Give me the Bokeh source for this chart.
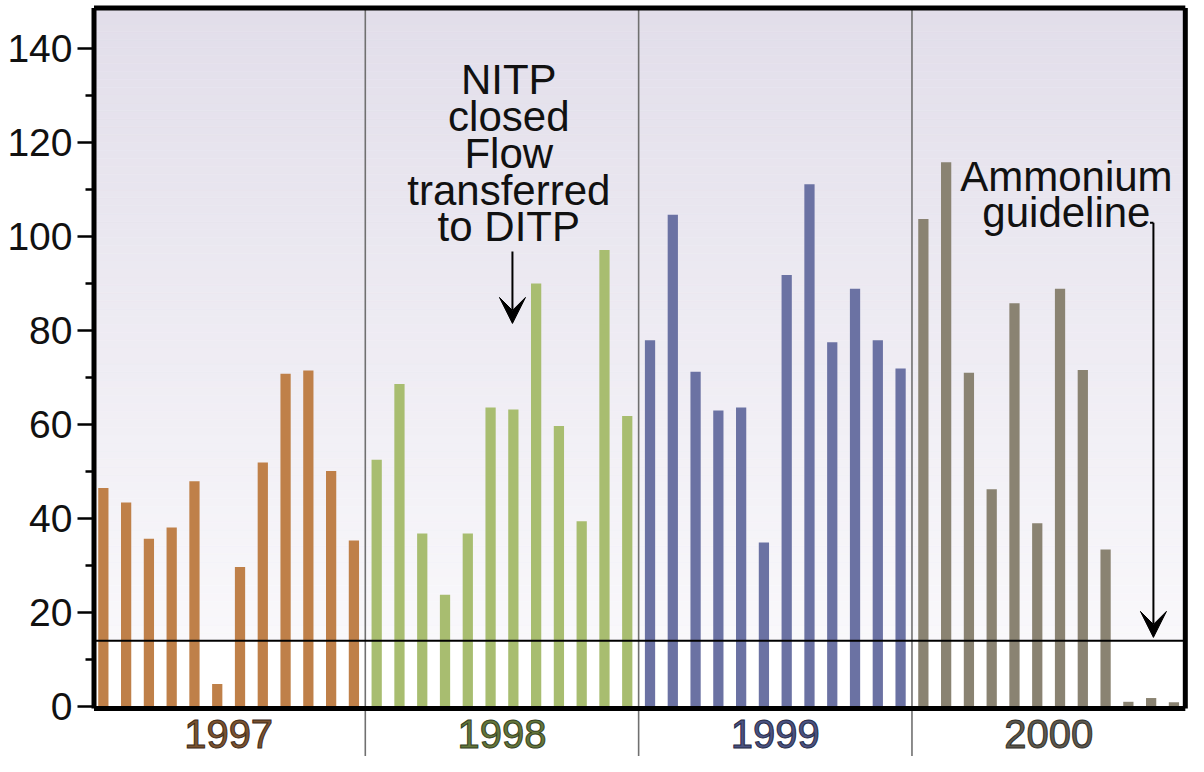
import numpy as np
from bokeh.plotting import figure
from bokeh.models import ColumnDataSource, FixedTicker, Arrow, VeeHead, Range1d, Text
from bokeh.core.properties import value
from bokeh.embed import file_html
from bokeh.resources import INLINE

# ---------------- data ----------------
years = ["1997", "1998", "1999", "2000"]
v1997 = [46.5, 43.4, 35.7, 38.1, 47.9, 4.8, 29.7, 51.9, 70.8, 71.5, 50.1, 35.3]
v1998 = [52.5, 68.6, 36.8, 23.8, 36.8, 63.6, 63.2, 90.0, 59.7, 39.4, 97.1, 61.8]
v1999 = [77.9, 104.6, 71.2, 63.0, 63.6, 34.9, 91.8, 111.1, 77.5, 88.9, 77.9, 71.9]
v2000 = [103.7, 115.8, 71.0, 46.2, 85.8, 39.0, 88.9, 71.6, 33.4, 1.0, 1.8, 0.9]
guideline = 14.0
y_ticks = [0, 20, 40, 60, 80, 100, 120, 140]
y_minor = [10, 30, 50, 70, 90, 110, 130]
note_nitp = "NITP\nclosed\nFlow\ntransferred\nto DITP"
note_amm = "Ammonium\nguideline"

bar_colors = ["#BF8049", "#A8BD70", "#6B72A3", "#8A8372"]
label_colors = ["#7A5230", "#63763A", "#4A5282", "#5C584E"]
label_outline = ["#3E2A18", "#343F1E", "#262A45", "#302E28"]

series = [v1997, v1998, v1999, v2000]
n_per = len(v1997)
xs, tops, cols = [], [], []
for k, vals in enumerate(series):
    for j, v in enumerate(vals):
        xs.append(k * n_per + j)
        tops.append(v)
        cols.append(bar_colors[k])
src = ColumnDataSource(dict(x=xs, top=tops, color=cols))

x_lo, x_hi = -0.41, len(xs) - 0.5
y_top = 148.6
y_bot_border = -0.45
y_lo, y_hi = -10.64, 150.21

p = figure(width=1188, height=756, output_backend="svg", toolbar_location=None,
           x_range=Range1d(-0.564, 47.64), y_range=Range1d(y_lo, y_hi),
           min_border_left=90, min_border_right=0, min_border_top=0, min_border_bottom=0)
p.background_fill_color = "white"
p.border_fill_color = "white"
p.outline_line_color = None
p.xgrid.visible = False
p.ygrid.visible = False
p.xaxis.visible = False

# gradient background (above guideline)
nb = 80
edges = np.linspace(guideline, y_top, nb + 1)
c0 = np.array([0xF9, 0xF8, 0xFB])
c1 = np.array([0xE2, 0xDE, 0xEA])
bg_cols = []
for t in np.linspace(0, 1, nb):
    c = (c0 + (c1 - c0) * t).round().astype(int)
    bg_cols.append("#%02x%02x%02x" % tuple(c))
p.quad(left=x_lo, right=x_hi, bottom=edges[:-1], top=edges[1:], fill_color=bg_cols,
       line_color=bg_cols, line_width=0.5)

# year separators
seps = [n_per * k - 0.5 for k in range(1, len(years))]
p.segment(x0=seps, x1=seps, y0=y_lo, y1=y_top, line_color="#707070", line_width=1.6)

# bars
p.vbar(x="x", top="top", bottom=0, width=0.45, fill_color="color", line_color=None, source=src)

# guideline
p.segment(x0=[x_lo], x1=[x_hi], y0=[guideline], y1=[guideline], line_color="black", line_width=2)

# frame borders
p.segment(x0=[x_lo, x_hi, x_lo, x_lo], x1=[x_lo, x_hi, x_hi, x_hi],
          y0=[y_bot_border, y_bot_border, y_top, y_bot_border],
          y1=[y_top, y_top, y_top, y_bot_border],
          line_color="black", line_width=5)

# year labels
ysrc = ColumnDataSource(dict(x=[n_per * k + (n_per - 1) / 2 for k in range(len(years))],
                             y=[-2.77] * len(years), text=years, color=label_colors,
                             outline=label_outline))
extra = {}
if "text_outline_color" in Text.properties():
    extra["text_outline_color"] = "outline"
p.text(x="x", y="y", text="text", text_color="color", source=ysrc,
       text_font=value("Liberation Sans"), text_font_size="40px",
       text_align="center", text_baseline="top", **extra)

# annotations
p.text(x=[17.8], y=[138.3], text=[note_nitp], text_font=value("Liberation Sans"),
       text_font_size="42px", text_align="center", text_baseline="top",
       text_line_height=0.782, text_color="#111111")
p.add_layout(Arrow(end=VeeHead(size=26, fill_color="black", line_color="black"),
                   x_start=17.96, y_start=96.8, x_end=17.96, y_end=81.5,
                   line_color="black", line_width=2))

p.text(x=[42.28], y=[117.7], text=[note_amm], text_font=value("Liberation Sans"),
       text_font_size="42px", text_align="center", text_baseline="top",
       text_line_height=0.75, text_color="#111111")
p.segment(x0=[45.95], x1=[46.1], y0=[102.9], y1=[102.9], line_color="black", line_width=2)
p.add_layout(Arrow(end=VeeHead(size=26, fill_color="black", line_color="black"),
                   x_start=46.1, y_start=102.9, x_end=46.1, y_end=14.7,
                   line_color="black", line_width=2))

# y axis
ax = p.yaxis[0]
ax.ticker = FixedTicker(ticks=y_ticks, minor_ticks=y_minor)
ax.axis_line_color = None
ax.major_tick_out = 13
ax.major_tick_in = 2
ax.minor_tick_out = 5
ax.minor_tick_in = 2
ax.major_tick_line_color = "black"
ax.minor_tick_line_color = "black"
ax.major_tick_line_width = 2.5
ax.minor_tick_line_width = 2.5
ax.major_label_standoff = 5
ax.major_label_text_font = "Liberation Sans"
ax.major_label_text_font_size = "39px"
ax.major_label_text_color = "#111111"

open("out.html", "w").write(file_html(p, INLINE))
